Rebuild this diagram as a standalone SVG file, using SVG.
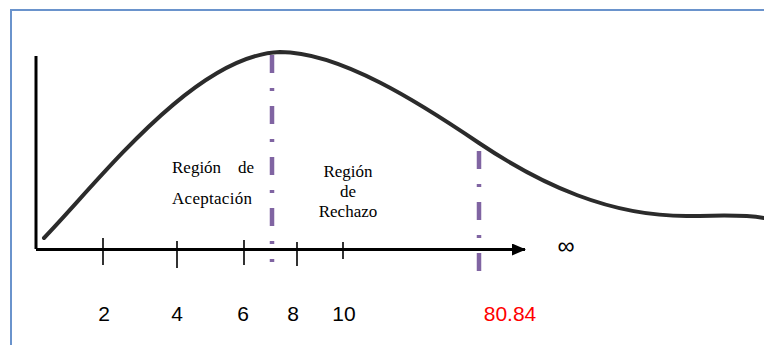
<svg xmlns="http://www.w3.org/2000/svg" width="764" height="345" viewBox="0 0 764 345">
<style>
.axis{stroke:#000;stroke-width:3;fill:none}
.tick{stroke:#000;stroke-width:1.6}
.crit{stroke:#8064A2;stroke-width:4.5;stroke-dasharray:18 15 3 15;fill:none}
.curve{stroke:#2b2b2b;stroke-width:4;fill:none;stroke-linecap:round}
.reg{font-family:"Liberation Serif","Times New Roman",serif;font-size:17px;fill:#000}
.num{font-family:"Liberation Sans",Arial,sans-serif;font-size:21px;fill:#000;text-anchor:middle}
</style>
<defs>
<marker id="arr" markerWidth="14" markerHeight="12" refX="13" refY="6" orient="auto" markerUnits="userSpaceOnUse">
<path d="M0,0 L14,6 L0,12 Z" fill="#000"/>
</marker>
</defs>
<rect width="764" height="345" fill="#fff"/>
<path d="M11,345 V10 H764" fill="none" stroke="#6A93CC" stroke-width="2"/>
<g id="curve">
<path class="curve" d="M44,238 C100,180 195,55 280,52 C340,52 420,103 479,143 C540,184 610,217 690,216 C720,216 740,214 764,218"/>
</g>
<g id="connectors">
<path class="axis" d="M36,56 V249"/>
<path class="axis" d="M36,249.5 H525" marker-end="url(#arr)"/>
<path class="tick" d="M103,238 V265 M177,241 V268 M244,240 V265 M297,242 V266 M343,242 V259"/>
<path class="crit" d="M272,55 V262"/>
<path class="crit" d="M479,151 V271"/>
</g>
<g id="acceptance">
<text class="reg" x="172" y="173">Región</text>
<text class="reg" x="254" y="173" text-anchor="end">de</text>
<text class="reg" x="172" y="204" textLength="80">Aceptación</text>
</g>
<g id="rejection">
<text class="reg" x="348" y="177" text-anchor="middle">Región</text>
<text class="reg" x="348" y="197" text-anchor="middle">de</text>
<text class="reg" x="348" y="217" text-anchor="middle">Rechazo</text>
</g>
<g id="labels">
<text class="num" x="104" y="321">2</text>
<text class="num" x="177" y="321">4</text>
<text class="num" x="243" y="321">6</text>
<text class="num" x="293" y="321">8</text>
<text class="num" x="344" y="321">10</text>
<text class="num" x="510" y="321" fill="#FF0000" style="fill:#FF0000">80.84</text>
<text class="num" x="566" y="254" style="font-size:24px">∞</text>
</g>
</svg>
